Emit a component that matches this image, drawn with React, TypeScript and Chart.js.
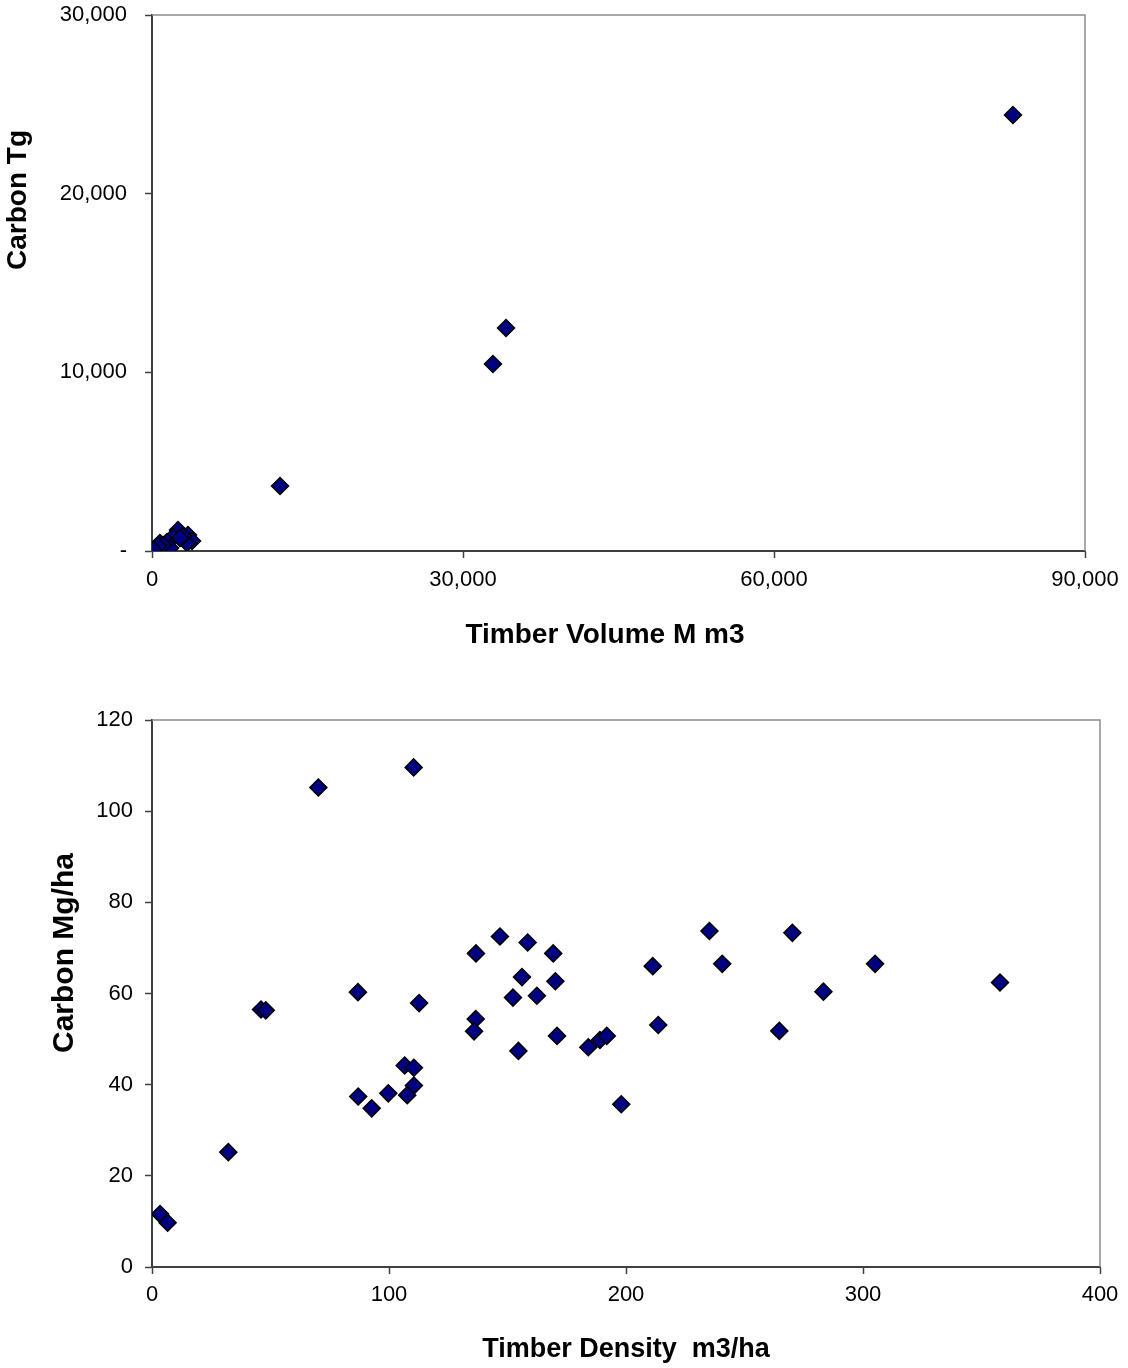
import React, { useEffect, useRef } from "react";
import { Chart, registerables } from "chart.js";

Chart.register(...registerables);

// Top chart: Timber volume (M m3) vs Carbon (Tg)
const volumeX: number[] = [83050, 34150, 32890, 12350, 2510, 3470, 3860, 2030, 1450, 770, 1740, 290, 50, 1060, 3380, 2990, 2700, 580, 150];
const carbonTg: number[] = [24400, 12480, 10470, 3640, 1175, 895, 560, 785, 505, 450, 170, 170, 0, 335, 450, 840, 730, 280, 60];

// Bottom chart: Timber density (m3/ha) vs Carbon (Mg/ha)
const densityX: number[] = [3.4, 6.6, 32.2, 46, 48, 70.2, 110.4, 86.9, 112.7, 87.0, 92.7, 99.7, 106.6, 110.5, 110.5, 107.7, 136.7, 136.6, 135.9, 146.8, 158.5, 169.3, 156.1, 170.2, 152.3, 162.4, 154.6, 170.9, 184.1, 189.0, 191.9, 213.6, 198.0, 235.2, 270.2, 211.3, 240.6, 283.3, 264.7, 305.1, 357.8];
const carbonMgHa: number[] = [11.6, 9.7, 25.2, 56.5, 56.3, 105.2, 109.6, 60.3, 57.9, 37.4, 34.8, 38.1, 44.2, 43.7, 39.8, 37.7, 68.8, 54.4, 51.7, 72.5, 71.2, 68.8, 63.6, 62.7, 59.1, 59.5, 47.4, 50.7, 48.2, 49.8, 50.7, 53.1, 35.7, 73.7, 73.3, 66.0, 66.5, 60.4, 51.8, 66.5, 62.4];

const topTitleX = "Timber Volume M m3";
const topTitleY = "Carbon Tg";
const botTitleX = "Timber Density  m3/ha";
const botTitleY = "Carbon Mg/ha";

const FONT = "'Liberation Sans', Arial, sans-serif";
const AXIS_COLOR = "#404040";

const framePlugin = {
  id: "frame",
  beforeDatasetsDraw(chart: any) {
    const { ctx, chartArea } = chart;
    ctx.save();
    ctx.strokeStyle = "#8c8c8c";
    ctx.lineWidth = 1.5;
    ctx.beginPath();
    ctx.moveTo(chartArea.left, chartArea.top);
    ctx.lineTo(chartArea.right, chartArea.top);
    ctx.lineTo(chartArea.right, chartArea.bottom);
    ctx.stroke();
    ctx.restore();
  },
};

type Cfg = {
  xs: number[];
  ys: number[];
  width: number;
  height: number;
  padTop: number;
  padRight: number;
  yAxisWidth: number;
  xAxisHeight: number;
  xMax: number;
  xStep: number;
  yMax: number;
  yStep: number;
  xTitle: string;
  yTitle: string;
  xTitlePos: [number, number];
  yTitlePos: [number, number];
  xTitleSize: number;
  yTitleSize: number;
  yTickPad: number;
  xTickPad: number;
  fmtX: (v: number) => string;
  fmtY: (v: number) => string;
};

function ScatterChart(props: Cfg) {
  const ref = useRef<HTMLCanvasElement | null>(null);
  useEffect(() => {
    if (!ref.current) return;
    const pts = props.xs.map((x, i) => ({ x, y: props.ys[i] }));
    const titlePlugin = {
      id: "axisTitles",
      afterDraw(chart: any) {
        const ctx = chart.ctx;
        ctx.save();
        ctx.fillStyle = "#000";
        ctx.textAlign = "center";
        ctx.textBaseline = "middle";
        ctx.font = `bold ${props.xTitleSize}px ${FONT}`;
        ctx.fillText(props.xTitle, props.xTitlePos[0], props.xTitlePos[1]);
        ctx.font = `bold ${props.yTitleSize}px ${FONT}`;
        ctx.translate(props.yTitlePos[0], props.yTitlePos[1]);
        ctx.rotate(-Math.PI / 2);
        ctx.fillText(props.yTitle, 0, 0);
        ctx.restore();
      },
    };
    const chart = new Chart(ref.current, {
      type: "scatter",
      data: {
        datasets: [
          {
            data: pts,
            pointStyle: "rectRot",
            pointRadius: 8.5,
            pointHoverRadius: 8.5,
            backgroundColor: "#000080",
            borderColor: "#000000",
            borderWidth: 1.5,
          },
        ],
      },
      options: {
        responsive: false,
        animation: false,
        layout: { padding: { top: props.padTop, right: props.padRight, left: 0, bottom: 0 } },
        plugins: { legend: { display: false }, tooltip: { enabled: false } },
        scales: {
          x: {
            type: "linear",
            min: 0,
            max: props.xMax,
            afterFit: (s: any) => {
              s.height = props.xAxisHeight;
              s.paddingLeft = 0;
              s.paddingRight = 0;
            },
            ticks: {
              stepSize: props.xStep,
              padding: props.xTickPad,
              color: "#000",
              font: { family: FONT, size: 22 },
              maxRotation: 0,
              callback: (v: any) => props.fmtX(Number(v)),
            },
            grid: { drawOnChartArea: false, drawTicks: true, tickLength: 7, tickColor: AXIS_COLOR, tickWidth: 1.5 },
            border: { display: true, color: AXIS_COLOR, width: 2 },
            title: { display: false },
          },
          y: {
            type: "linear",
            min: 0,
            max: props.yMax,
            afterFit: (s: any) => {
              s.width = props.yAxisWidth;
              s.paddingTop = 0;
              s.paddingBottom = 0;
            },
            ticks: {
              stepSize: props.yStep,
              padding: props.yTickPad,
              color: "#000",
              font: { family: FONT, size: 22 },
              callback: (v: any) => props.fmtY(Number(v)),
            },
            grid: { drawOnChartArea: false, drawTicks: true, tickLength: 7, tickColor: AXIS_COLOR, tickWidth: 1.5 },
            border: { display: true, color: AXIS_COLOR, width: 2 },
            title: { display: false },
          },
        },
      },
      plugins: [framePlugin, titlePlugin],
    });
    return () => chart.destroy();
  }, []);
  return <canvas ref={ref} width={props.width} height={props.height} style={{ display: "block", width: props.width, height: props.height }} />;
}

const thousands = (v: number) => v.toLocaleString("en-US");

export default function App() {
  return (
    <div style={{ position: "absolute", left: 0, top: 0, width: 1128, height: 1368, background: "#fff" }}>
      <ScatterChart
        xs={volumeX}
        ys={carbonTg}
        width={1128}
        height={690}
        padTop={15}
        padRight={43}
        yAxisWidth={152}
        xAxisHeight={690 - 551}
        xMax={90000}
        xStep={30000}
        yMax={30000}
        yStep={10000}
        xTitle={topTitleX}
        yTitle={topTitleY}
        xTitlePos={[605, 635]}
        yTitlePos={[18, 200]}
        xTitleSize={28}
        yTitleSize={28}
        yTickPad={18}
        xTickPad={9}
        fmtX={(v) => thousands(v)}
        fmtY={(v) => (v === 0 ? "-" : thousands(v))}
      />
      <ScatterChart
        xs={densityX}
        ys={carbonMgHa}
        width={1128}
        height={678}
        padTop={30}
        padRight={28}
        yAxisWidth={152}
        xAxisHeight={678 - 577}
        xMax={400}
        xStep={100}
        yMax={120}
        yStep={20}
        xTitle={botTitleX}
        yTitle={botTitleY}
        xTitlePos={[626, 660]}
        yTitlePos={[65, 263]}
        xTitleSize={27}
        yTitleSize={30}
        yTickPad={12}
        xTickPad={8}
        fmtX={(v) => String(v)}
        fmtY={(v) => String(v)}
      />
    </div>
  );
}
